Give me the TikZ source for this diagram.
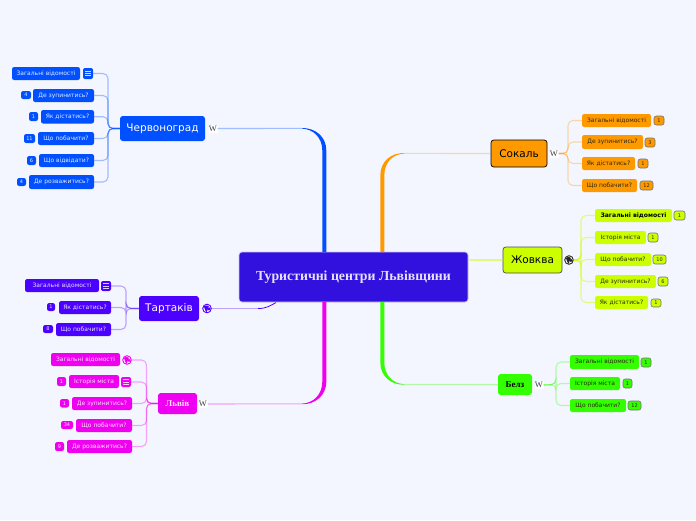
\documentclass[tikz,border=0pt]{standalone}
\usepackage{fontspec}
\setmainfont{DejaVu Sans}
\newfontfamily\serifb{Liberation Serif}
\usetikzlibrary{calc}
\definecolor{pagebg}{HTML}{F4F6FF}
\definecolor{cblue}{HTML}{0050FF}
\definecolor{cviolet}{HTML}{4C00FF}
\definecolor{cmag}{HTML}{F000F0}
\definecolor{corange}{HTML}{FF9900}
\definecolor{cyell}{HTML}{CCFF00}
\definecolor{cgreen}{HTML}{33FF00}
\definecolor{ccent}{HTML}{3210DE}
\definecolor{dtext}{HTML}{2A2A10}
\tikzset{
  x=1pt,y=-1pt,
  box/.style={rounded corners=2.2,inner sep=0pt,font=\fontsize{6}{7}\selectfont},
  kidblue/.style={box,fill=cblue,text=white!88!cblue},
  kidviolet/.style={box,fill=cviolet,text=white!88!cviolet},
  kidmag/.style={box,fill=cmag,text=white!88!cmag},
  kidorange/.style={box,fill=corange,text=dtext},
  kidyell/.style={box,fill=cyell,text=dtext},
  kidgreen/.style={box,fill=cgreen,text=dtext},
  badgelight/.style={font=\fontsize{5}{6}\selectfont},
  badgedark/.style={font=\fontsize{5}{6}\selectfont,draw=black!55,line width=.6},
  branch/.style={rounded corners=2.8,inner sep=0pt,font=\fontsize{10.5}{12}\selectfont},
  branchs/.style={rounded corners=2.8,inner sep=0pt,font=\serifb\bfseries\fontsize{9}{11}\selectfont},
  conn/.style={line width=1.1,opacity=.34,rounded corners=5},
  wicon/.style={fill=white,inner sep=0pt,minimum width=9,minimum height=8,text=black!75,font=\serifb\fontsize{8.5}{8.5}\selectfont},
  globeicon/.style={circle,fill=white,inner sep=0pt,minimum size=8.6,line width=.9},
  listicon/.style={rounded corners=2,inner sep=0pt},
}
% style, name, x1, y1, x2, y2, text
\newcommand{\bx}[7]{\node[#1,minimum width={(#5-#3)*1pt},minimum height={(#6-#4)*1pt}] (#2) at ({(#3+#5)/2},{(#4+#6)/2}) {#7};}
% name, x1, y1, x2, y2, colour
\newcommand{\listic}[6]{\node[listicon,fill=#6,minimum width={(#4-#2)*1pt},minimum height={(#5-#3)*1pt}] (#1) at ({(#2+#4)/2},{(#3+#5)/2}) {};
  \draw[white!80!#6,line width=.7] ([shift={(-3,-2.2)}]#1.center) -- ([shift={(3,-2.2)}]#1.center)
    ([shift={(-3,0)}]#1.center) -- ([shift={(3,0)}]#1.center)
    ([shift={(-3,2.2)}]#1.center) -- ([shift={(3,2.2)}]#1.center);}
% name, x, y, colour
\newcommand{\globeic}[4]{\node[globeicon,draw=#4] (#1) at (#2,#3) {};
  \fill[#4] ([shift={(-3,-2.2)}]#1.center) .. controls +(2,-2) and +(3,-1) .. ([shift={(1,-1)}]#1.center) .. controls +(0,1.4) and +(0,2) .. ([shift={(-.6,3.4)}]#1.center) .. controls +(-1.4,-1) and +(-.6,-2) .. cycle;
  \fill[#4] ([shift={(2,.4)}]#1.center) circle (1.8);}
% colour, start on the centre node, junction, horizontal direction, vertical direction
\newcommand{\taper}[5]{\fill[#1] let \p1=(#2),\p2=(#3) in
  ({\x1+2pt*(#4)},\y1) -- ({\x1+2pt*(#4)},{\y2-22pt*(#5)})
  .. controls ({\x1+2pt*(#4)},{\y2-9pt*(#5)}) and ({\x2-11pt*(#4)},{\y2-.6pt*(#5)}) .. (\x2,{\y2-.2pt*(#5)})
  -- (\x2,{\y2+.4pt*(#5)})
  .. controls ({\x2-13pt*(#4)},{\y2+.6pt*(#5)}) and ({\x1-2pt*(#4)},{\y2-8pt*(#5)}) .. ({\x1-2pt*(#4)},{\y2-22pt*(#5)})
  -- ({\x1-2pt*(#4)},\y1) -- cycle;}
\begin{document}
\begin{tikzpicture}
\useasboundingbox (0,0) rectangle (696,520);
\fill[pagebg] (0,0) rectangle (696,520);

% centre
\node[fill=ccent,draw=white!75!ccent,line width=.7,rounded corners=3,inner sep=0pt,minimum width=229,minimum height=50,text=white!88!ccent,font=\serifb\bfseries\fontsize{13.8}{15}\selectfont] (central) at (353.5,277) {Туристичні центри Львівщини};

% Червоноград
\bx{branch,fill=cblue,text=white}{chv}{120}{116}{205}{141}{Червоноград}
\node[wicon] (chvw) at (213,128.5) {W};
\bx{kidblue}{a1}{12}{67}{80}{80}{Загальні відомості}
\listic{a1i}{83}{68}{93}{79}{cblue}
\bx{kidblue}{a2}{33}{89}{94}{102}{Де зупинитись?}
\bx{kidblue,badgelight}{a2b}{21}{91}{31}{99}{4}
\bx{kidblue}{a3}{41}{110}{94}{123.5}{Як дістатись?}
\bx{kidblue,badgelight}{a3b}{29}{112}{38}{121}{1}
\bx{kidblue}{a4}{38}{132}{94}{145}{Що побачити?}
\bx{kidblue,badgelight}{a4b}{24}{134}{35}{143}{11}
\bx{kidblue}{a5}{39}{154}{94}{167}{Що відвідати?}
\bx{kidblue,badgelight}{a5b}{27}{156}{36}{165}{6}
\bx{kidblue}{a6}{29}{175}{94}{189}{Де розважитись?}
\bx{kidblue,badgelight}{a6b}{17}{178}{26}{186}{4}
\coordinate (as) at (108,128.5);
\foreach \n in {a1i,a2,a3,a4,a5,a6} \draw[conn,cblue] (\n.east) -| (as) -- (chv.west);

% Тартаків
\bx{branch,fill=cviolet,text=white}{tar}{139}{296}{199}{321}{Тартаків}
\globeic{targ}{207}{308.5}{cviolet}
\bx{kidviolet}{b1}{25}{279}{99}{292}{Загальні відомості}
\listic{b1i}{101}{281}{111}{291}{cviolet}
\bx{kidviolet}{b2}{59}{301}{111}{314}{Як дістатись?}
\bx{kidviolet,badgelight}{b2b}{47}{303}{55}{311}{1}
\bx{kidviolet}{b3}{56}{323}{111}{336}{Що побачити?}
\bx{kidviolet,badgelight}{b3b}{43}{325}{53}{333}{8}
\coordinate (bs) at (126,308.5);
\foreach \n in {b1i,b2,b3} \draw[conn,cviolet] (\n.east) -| (bs) -- (tar.west);

% Львів
\bx{branchs,fill=cmag,text=white!88!cmag}{lv}{158}{393}{197}{414}{Львів}
\node[wicon] (lvw) at (203,404) {W};
\bx{kidmag}{c1}{51}{353}{120}{366}{Загальні відомості}
\globeic{c1g}{127}{360}{cmag}
\bx{kidmag}{c2}{69}{375}{119}{388}{Історія міста}
\listic{c2i}{121}{377}{131}{387}{cmag}
\bx{kidmag,badgelight}{c2b}{57}{377}{66}{386}{1}
\bx{kidmag}{c3}{72}{397}{132}{410}{Де зупинитись?}
\bx{kidmag,badgelight}{c3b}{60}{399}{69}{407.5}{1}
\bx{kidmag}{c4}{76}{419}{132}{432}{Що побачити?}
\bx{kidmag,badgelight}{c4b}{61}{421}{73}{429}{34}
\bx{kidmag}{c5}{67}{440}{132}{453}{Де розважитись?}
\bx{kidmag,badgelight}{c5b}{55}{442}{64}{451}{9}
\coordinate (cs) at (146.5,403.5);
\foreach \n in {c1g,c2i,c3,c4,c5} \draw[conn,cmag] (\n.east) -| (cs) -- (lv.west);

% Сокаль
\bx{branch,fill=corange,draw=black,line width=.7,text=black}{sok}{491}{140}{547}{167}{Сокаль}
\node[wicon] (sokw) at (554,153.5) {W};
\bx{kidorange}{d1}{582}{114}{651}{127}{Загальні відомості}
\bx{kidorange,badgedark}{d1b}{654}{116}{664}{125}{1}
\bx{kidorange}{d2}{582}{135}{643}{149}{Де зупинитись?}
\bx{kidorange,badgedark}{d2b}{645}{138}{655}{147}{3}
\bx{kidorange}{d3}{582}{157}{635}{170}{Як дістатись?}
\bx{kidorange,badgedark}{d3b}{638}{159}{648}{168}{1}
\bx{kidorange}{d4}{582}{179}{637}{192}{Що побачити?}
\bx{kidorange,badgedark}{d4b}{640}{181}{653}{190}{12}
\coordinate (ds) at (568,153.5);
\foreach \n in {d1,d2,d3,d4} \draw[conn,corange] (sokw.east) -- (ds) |- (\n.west);

% Жовква
\bx{branch,fill=cyell,draw=black!70,line width=.7,text=black}{zh}{503}{247}{562}{273}{Жовква}
\globeic{zhg}{569}{260}{black!85}
\bx{kidyell,font=\bfseries\fontsize{6.1}{7}\selectfont,text=black}{e1}{595}{209}{672}{222}{Загальні відомості}
\bx{kidyell,badgedark}{e1b}{674}{211}{685}{220}{1}
\bx{kidyell}{e2}{595}{231}{646}{244}{Історія міста}
\bx{kidyell,badgedark}{e2b}{648}{233}{658}{242}{1}
\bx{kidyell}{e3}{595}{253}{651}{266}{Що побачити?}
\bx{kidyell,badgedark}{e3b}{653}{255}{666}{264}{10}
\bx{kidyell}{e4}{595}{275}{656}{288}{Де зупинитись?}
\bx{kidyell,badgedark}{e4b}{658}{277}{668}{286}{6}
\bx{kidyell}{e5}{595}{296}{648}{309}{Як дістатись?}
\bx{kidyell,badgedark}{e5b}{651}{299}{661}{307}{1}
\coordinate (es) at (581,260);
\foreach \n in {e1,e2,e3,e4,e5} \draw[conn,cyell,opacity=.5] (zhg.east) -- (es) |- (\n.west);

% Белз
\bx{branchs,fill=cgreen,text=black}{bel}{498}{374}{532}{395}{Белз}
\node[wicon] (belw) at (539,385) {W};
\bx{kidgreen}{f1}{570}{355}{639}{369}{Загальні відомості}
\bx{kidgreen,badgedark}{f1b}{641}{358}{651}{367}{1}
\bx{kidgreen}{f2}{570}{377}{620}{390}{Історія міста}
\bx{kidgreen,badgedark}{f2b}{623}{379}{632}{388}{1}
\bx{kidgreen}{f3}{570}{399}{626}{412}{Що побачити?}
\bx{kidgreen,badgedark}{f3b}{628}{401}{641}{410}{12}
\coordinate (fs) at (556,384.5);
\foreach \n in {f1,f2,f3} \draw[conn,cgreen] (belw.east) -- (fs) |- (\n.west);

% main connectors from the centre
\coordinate (tb) at (324.3,252); \coordinate (jb) at (302,128.4);
\coordinate (to) at (382.3,252); \coordinate (jo) at (404,153.4);
\coordinate (tm) at (324.3,302); \coordinate (jm) at (302,403.8);
\coordinate (tg) at (382.3,302); \coordinate (jg) at (404,384.3);
\draw[conn,cblue] (chvw.east) -- (jb);
\draw[conn,corange] (sok.west) -- (jo);
\draw[conn,cmag] (lvw.east) -- (jm);
\draw[conn,cgreen] (bel.west) -- (jg);
\taper{cblue}{tb}{jb}{-1}{1}
\taper{corange}{to}{jo}{1}{1}
\taper{cmag}{tm}{jm}{-1}{-1}
\taper{cgreen}{tg}{jg}{1}{-1}
% Тартаків to the centre
\coordinate (jt) at (258,308.5); \coordinate (tt) at (276,302.6);
\draw[conn,cviolet] (targ.east) -- (jt);
\draw[cviolet,line width=.8] (jt) .. controls +(9,0) and +(-6,3) .. (tt);
% Жовква to the centre
\coordinate (ty) at (468.5,260);
\draw[conn,cyell,opacity=.5] (ty) -- (zh.west);
\end{tikzpicture}
\end{document}
